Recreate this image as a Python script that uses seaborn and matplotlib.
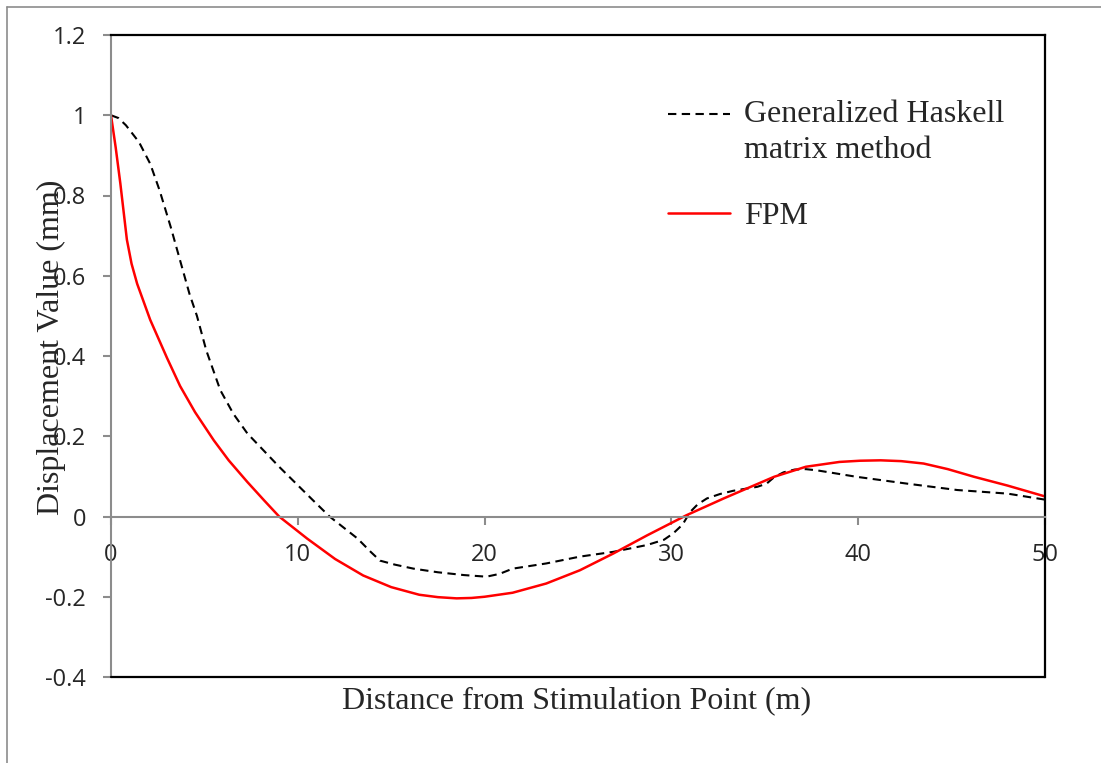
import matplotlib
matplotlib.use("Agg")
import numpy as np
import matplotlib.pyplot as plt
import seaborn as sns
import pandas as pd
from matplotlib.lines import Line2D
from matplotlib.legend_handler import HandlerLine2D

# ---- data ----
haskell_x = [0, 0.4, 0.8, 1.5, 2.1, 2.6, 3.2, 3.7, 4.2, 4.6, 5.1, 5.85, 6.55, 7.3, 9.0,
             10.8, 11.7, 13.2, 13.9, 14.4, 15.2, 16.2, 17.5, 18.9, 20.1, 20.8, 21.5,
             23.3, 25.1, 26.9, 28.7, 29.6, 30.1, 30.6, 31.0, 31.4, 31.9, 32.6, 33.3,
             34.6, 35.1, 35.5, 36.0, 36.6, 37.2, 37.8, 39.9, 42.6, 45.3, 48.0, 50.0]
haskell_y = [1.0, 0.993, 0.975, 0.933, 0.879, 0.813, 0.721, 0.638, 0.555, 0.5, 0.414,
             0.315, 0.256, 0.207, 0.124, 0.041, 0.0, -0.055, -0.088, -0.11, -0.12,
             -0.13, -0.139, -0.146, -0.15, -0.143, -0.13, -0.117, -0.1, -0.088, -0.071,
             -0.058, -0.042, -0.02, 0.011, 0.03, 0.045, 0.056, 0.064, 0.074, 0.082,
             0.098, 0.11, 0.117, 0.118, 0.115, 0.099, 0.082, 0.066, 0.057, 0.042]

fpm_x = [0, 0.25, 0.5, 0.85, 1.1, 1.4, 2.1, 3.0, 3.7, 4.5, 5.5, 6.3, 7.3, 8.2, 9.0,
         10.5, 12.0, 13.5, 15.0, 16.5, 17.5, 18.5, 19.3, 20.0, 21.5, 23.3, 25.1,
         26.9, 28.7, 30.8, 32.8, 34.2, 35.5, 37.2, 39.0, 40.1, 41.2, 42.3, 43.5,
         44.8, 46.2, 48.0, 50.0]
fpm_y = [1.0, 0.92, 0.83, 0.69, 0.63, 0.58, 0.49, 0.395, 0.325, 0.26, 0.19, 0.14,
         0.086, 0.04, 0.0, -0.055, -0.106, -0.147, -0.176, -0.195, -0.201, -0.204,
         -0.203, -0.2, -0.19, -0.167, -0.134, -0.092, -0.047, 0.003, 0.045, 0.073,
         0.099, 0.124, 0.136, 0.139, 0.14, 0.138, 0.132, 0.118, 0.099, 0.077, 0.05]

series_names = ["Generalized Haskell\nmatrix method", "FPM"]
x_ticks = [0, 10, 20, 30, 40, 50]
y_ticks = [-0.4, -0.2, 0, 0.2, 0.4, 0.6, 0.8, 1, 1.2]
y_tick_labels = ["-0.4", "-0.2", "0", "0.2", "0.4", "0.6", "0.8", "1", "1.2"]
x_label = "Distance from Stimulation Point (m)"
y_label = "Displacement Value (mm)"

# ---- style ----
sns.set_style("white")
plt.rcParams["font.family"] = ["DejaVu Sans"]
SERIF = "Liberation Serif"
TICKFONT = "Open Sans"
FS = 23

W, H = 1101, 763
fig = plt.figure(figsize=(W / 100, H / 100), dpi=100)
L, R, T, B = 111, 1045, 35, 677
ax = fig.add_axes([L / W, 1 - B / H, (R - L) / W, (B - T) / H])

df_h = pd.DataFrame({"x": haskell_x, "y": haskell_y})
df_f = pd.DataFrame({"x": fpm_x, "y": fpm_y})
sns.lineplot(data=df_h, x="x", y="y", ax=ax, color="black", lw=1.5,
             sort=False, estimator=None)
h_line = ax.lines[-1]
h_line.set_dashes((4, 2.6))
h_line.set_label(series_names[0])
sns.lineplot(data=df_f, x="x", y="y", ax=ax, color="#ff0000", lw=1.8,
             sort=False, estimator=None)
f_line = ax.lines[-1]
f_line.set_label(series_names[1])

ax.set_xlim(0, 50)
ax.set_ylim(-0.4, 1.2)
ax.set_xticks(x_ticks)
ax.set_yticks(y_ticks)
ax.set_yticklabels(y_tick_labels)

gray = "#8c8c8c"
ax.spines["left"].set_color(gray)
ax.spines["left"].set_linewidth(1.5)
ax.spines["bottom"].set_position(("data", 0))
ax.spines["bottom"].set_color(gray)
ax.spines["bottom"].set_linewidth(1.5)
for s in ("top", "right"):
    ax.spines[s].set_color("black")
    ax.spines[s].set_linewidth(1.6)
ax.plot([0, 1], [0, 0], transform=ax.transAxes, color="black", lw=1.6,
        clip_on=False, zorder=5)

ax.tick_params(axis="y", direction="out", length=6, width=1.5, color=gray,
               pad=12, labelsize=17, left=True)
ax.tick_params(axis="x", direction="out", length=6, width=1.5, color=gray,
               pad=13, labelsize=17, bottom=True)
for lab in ax.get_xticklabels() + ax.get_yticklabels():
    lab.set_fontfamily(TICKFONT)

ax.set_xlabel(x_label, fontsize=FS, fontfamily=SERIF)
ax.set_ylabel(y_label, fontsize=FS, fontfamily=SERIF)
ax.xaxis.label.set_va("center")
ax.yaxis.label.set_va("center")
ax.xaxis.set_label_coords((577 - L) / (R - L), -(701 - B) / (B - T))
ax.yaxis.set_label_coords((51 - L) / (R - L), (B - 347) / (B - T))


class FirstLineHandler(HandlerLine2D):
    """Place the legend line level with the first line of a two-line label."""
    def __init__(self, shift, **kw):
        super().__init__(**kw)
        self.shift = shift

    def create_artists(self, *args, **kwargs):
        arts = super().create_artists(*args, **kwargs)
        for a in arts:
            a.set_ydata(np.asarray(a.get_ydata(), dtype=float) + self.shift)
        return arts


leg = ax.legend(handles=[h_line, f_line],
                loc="upper left",
                bbox_to_anchor=((668 - L) / (R - L), (B - 100) / (B - T)),
                frameon=False, prop={"family": SERIF, "size": FS},
                handlelength=1.95, handletextpad=0.42, labelspacing=1.15,
                borderaxespad=0, borderpad=0,
                handler_map={h_line: FirstLineHandler(shift=13.0)})
leg.get_texts()[0].set_linespacing(1.3)

# outer chart border (gray)
fig.add_artist(Line2D([7 / W, 7 / W], [0, 1 - 7 / H], color=gray, lw=1.2))
fig.add_artist(Line2D([7 / W, 1], [1 - 7 / H, 1 - 7 / H], color=gray, lw=1.2))

fig.savefig("out.png", dpi=100)
